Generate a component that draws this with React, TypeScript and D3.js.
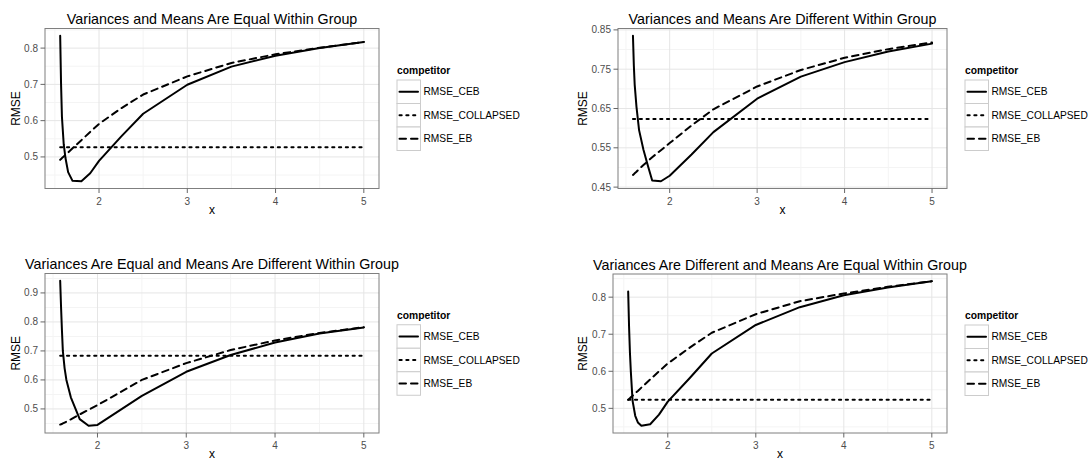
import React from 'react';
import * as d3 from 'd3';

// ---------- data ----------
const seriesNames = ['RMSE_CEB', 'RMSE_COLLAPSED', 'RMSE_EB'];
const legendTitle = 'competitor';
const xTicks = [2, 3, 4, 5];

// Panel 1: Variances and Means Are Equal Within Group
const title1 = 'Variances and Means Are Equal Within Group';
const x1 = [1.56, 1.57, 1.58, 1.6, 1.62, 1.65, 1.7, 1.8, 1.9, 2.0, 2.25, 2.5, 3.0, 3.5, 4.0, 4.5, 5.0];
const ceb1 = [0.834, 0.70, 0.61, 0.535, 0.497, 0.458, 0.434, 0.433, 0.455, 0.489, 0.556, 0.619, 0.699, 0.749, 0.779, 0.800, 0.817];
const collapsed1 = [0.527, 0.527, 0.527, 0.527, 0.527, 0.527, 0.527, 0.527, 0.527, 0.527, 0.527, 0.527, 0.527, 0.527, 0.527, 0.527, 0.527];
const eb1 = [0.492, 0.494, 0.497, 0.501, 0.506, 0.512, 0.524, 0.546, 0.569, 0.591, 0.634, 0.672, 0.722, 0.759, 0.783, 0.801, 0.817];
const yTicks1 = [0.5, 0.6, 0.7, 0.8];
const yLabels1 = ['0.5', '0.6', '0.7', '0.8'];

// Panel 2: Variances and Means Are Different Within Group
const title2 = 'Variances and Means Are Different Within Group';
const x2 = [1.58, 1.59, 1.6, 1.62, 1.65, 1.7, 1.75, 1.8, 1.9, 2.0, 2.25, 2.5, 3.0, 3.5, 4.0, 4.5, 5.0];
const ceb2 = [0.835, 0.76, 0.71, 0.655, 0.595, 0.545, 0.505, 0.467, 0.465, 0.479, 0.533, 0.590, 0.675, 0.731, 0.768, 0.795, 0.815];
const collapsed2 = [0.623, 0.623, 0.623, 0.623, 0.623, 0.623, 0.623, 0.623, 0.623, 0.623, 0.623, 0.623, 0.623, 0.623, 0.623, 0.623, 0.623];
const eb2 = [0.481, 0.483, 0.485, 0.489, 0.496, 0.506, 0.516, 0.526, 0.544, 0.562, 0.607, 0.648, 0.706, 0.748, 0.779, 0.801, 0.818];
const yTicks2 = [0.45, 0.55, 0.65, 0.75, 0.85];
const yLabels2 = ['0.45', '0.55', '0.65', '0.75', '0.85'];

// Panel 3: Variances Are Equal and Means Are Different Within Group
const title3 = 'Variances Are Equal and Means Are Different Within Group';
const x3 = [1.58, 1.59, 1.6, 1.61, 1.63, 1.65, 1.7, 1.8, 1.9, 2.0, 2.5, 3.0, 3.5, 4.0, 4.5, 5.0];
const ceb3 = [0.942, 0.85, 0.77, 0.70, 0.64, 0.60, 0.540, 0.465, 0.442, 0.445, 0.545, 0.628, 0.686, 0.729, 0.760, 0.781];
const collapsed3 = [0.683, 0.683, 0.683, 0.683, 0.683, 0.683, 0.683, 0.683, 0.683, 0.683, 0.683, 0.683, 0.683, 0.683, 0.683, 0.683];
const eb3 = [0.446, 0.447, 0.448, 0.450, 0.453, 0.456, 0.464, 0.481, 0.497, 0.513, 0.600, 0.658, 0.703, 0.736, 0.762, 0.782];
const yTicks3 = [0.5, 0.6, 0.7, 0.8, 0.9];
const yLabels3 = ['0.5', '0.6', '0.7', '0.8', '0.9'];

// Panel 4: Variances Are Different and Means Are Equal Within Group
const title4 = 'Variances Are Different and Means Are Equal Within Group';
const x4 = [1.55, 1.56, 1.57, 1.58, 1.6, 1.63, 1.66, 1.7, 1.8, 1.9, 2.0, 2.25, 2.5, 3.0, 3.5, 4.0, 4.5, 5.0];
const ceb4 = [0.815, 0.72, 0.65, 0.60, 0.52, 0.48, 0.462, 0.453, 0.457, 0.483, 0.518, 0.582, 0.648, 0.725, 0.773, 0.805, 0.826, 0.843];
const collapsed4 = [0.523, 0.523, 0.523, 0.523, 0.523, 0.523, 0.523, 0.523, 0.523, 0.523, 0.523, 0.523, 0.523, 0.523, 0.523, 0.523, 0.523, 0.523];
const eb4 = [0.523, 0.525, 0.527, 0.530, 0.534, 0.541, 0.547, 0.556, 0.578, 0.600, 0.621, 0.664, 0.704, 0.754, 0.789, 0.810, 0.828, 0.843];
const yTicks4 = [0.5, 0.6, 0.7, 0.8];
const yLabels4 = ['0.5', '0.6', '0.7', '0.8'];

// ---------- layout / style ----------
const W = 1089;
const H = 461;
const FONT = '"Liberation Sans", Arial, Helvetica, sans-serif';
const DASHES = [null, '2.2 4.6', '6.5 5'];

type PanelSpec = {
  title: string;
  x: number[];
  series: number[][];
  yTicks: number[];
  yLabels: string[];
  left: number;
  right: number;
  top: number;
  bottom: number;
  legendX: number;
  ylabX: number;
};

const panels: PanelSpec[] = [
  { title: title1, x: x1, series: [ceb1, collapsed1, eb1], yTicks: yTicks1, yLabels: yLabels1,
    left: 45, right: 379, top: 28.5, bottom: 188.5, legendX: 397, ylabX: 20 },
  { title: title2, x: x2, series: [ceb2, collapsed2, eb2], yTicks: yTicks2, yLabels: yLabels2,
    left: 618, right: 947, top: 28.5, bottom: 188.5, legendX: 965, ylabX: 587 },
  { title: title3, x: x3, series: [ceb3, collapsed3, eb3], yTicks: yTicks3, yLabels: yLabels3,
    left: 45, right: 379, top: 273.5, bottom: 433, legendX: 397, ylabX: 20 },
  { title: title4, x: x4, series: [ceb4, collapsed4, eb4], yTicks: yTicks4, yLabels: yLabels4,
    left: 613, right: 947, top: 274, bottom: 433, legendX: 965, ylabX: 587 },
];

function expand(ext: [number, number]): [number, number] {
  const r = ext[1] - ext[0];
  return [ext[0] - 0.05 * r, ext[1] + 0.05 * r];
}

function minors(ticks: number[], dom: [number, number]) {
  const step = ticks[1] - ticks[0];
  const cand = [ticks[0] - step / 2, ...ticks.map((t) => t + step / 2)];
  return cand.filter((v) => v >= dom[0] && v <= dom[1]);
}

function Panel({ p }: { p: PanelSpec }) {
  const xDom = expand(d3.extent(p.x) as [number, number]);
  const all = p.series.flat();
  const yDom = expand(d3.extent(all) as [number, number]);
  const xs = d3.scaleLinear().domain(xDom).range([p.left, p.right]);
  const ys = d3.scaleLinear().domain(yDom).range([p.bottom, p.top]);
  const xMin = minors(xTicks, xDom);
  const yMin = minors(p.yTicks, yDom);
  const cx = (p.left + p.right) / 2;
  const cy = (p.top + p.bottom) / 2;
  const boxTop = cy - 28.5;
  const box = 23.5;

  return (
    <g>
      <rect x={p.left} y={p.top} width={p.right - p.left} height={p.bottom - p.top} fill="#fff" />
      {xMin.map((v, i) => (
        <line key={'xm' + i} x1={xs(v)} x2={xs(v)} y1={p.top} y2={p.bottom} stroke="#F4F4F4" strokeWidth={1} />
      ))}
      {yMin.map((v, i) => (
        <line key={'ym' + i} x1={p.left} x2={p.right} y1={ys(v)} y2={ys(v)} stroke="#F4F4F4" strokeWidth={1} />
      ))}
      {xTicks.map((v, i) => (
        <line key={'xM' + i} x1={xs(v)} x2={xs(v)} y1={p.top} y2={p.bottom} stroke="#E5E5E5" strokeWidth={1} />
      ))}
      {p.yTicks.map((v, i) => (
        <line key={'yM' + i} x1={p.left} x2={p.right} y1={ys(v)} y2={ys(v)} stroke="#E5E5E5" strokeWidth={1} />
      ))}
      {p.series.map((s, si) => {
        const pts = p.x.map((xv, i) => [xv, s[i]] as [number, number]);
        const path = d3.line<[number, number]>().x((d) => xs(d[0])).y((d) => ys(d[1]))(pts) || '';
        return (
          <path key={'s' + si} d={path} fill="none" stroke="#000" strokeWidth={2}
            strokeDasharray={DASHES[si] || undefined} strokeLinecap="round" strokeLinejoin="round" />
        );
      })}
      <rect x={p.left} y={p.top} width={p.right - p.left} height={p.bottom - p.top} fill="none" stroke="#7F7F7F" strokeWidth={1} />
      {/* y axis */}
      {p.yTicks.map((v, i) => (
        <g key={'yt' + i}>
          <line x1={p.left - 4.5} x2={p.left} y1={ys(v)} y2={ys(v)} stroke="#666" strokeWidth={1} />
          <text x={p.left - 7} y={ys(v)} dy="0.35em" textAnchor="end" fontSize={10} fill="#4D4D4D" fontFamily={FONT}>
            {p.yLabels[i]}
          </text>
        </g>
      ))}
      {/* x axis */}
      {xTicks.map((v, i) => (
        <g key={'xt' + i}>
          <line x1={xs(v)} x2={xs(v)} y1={p.bottom} y2={p.bottom + 4.5} stroke="#666" strokeWidth={1} />
          <text x={xs(v)} y={p.bottom + 16} textAnchor="middle" fontSize={10} fill="#4D4D4D" fontFamily={FONT}>
            {String(v)}
          </text>
        </g>
      ))}
      <text x={cx} y={p.bottom + 25} textAnchor="middle" fontSize={12} fill="#000" fontFamily={FONT}>x</text>
      <text transform={`translate(${p.ylabX},${cy}) rotate(-90)`} textAnchor="middle" fontSize={12} fill="#000" fontFamily={FONT}>
        RMSE
      </text>
      <text x={cx} y={p.top - 4.5} textAnchor="middle" fontSize={14.3} fill="#000" fontFamily={FONT}>
        {p.title}
      </text>
      {/* legend */}
      <text x={p.legendX} y={boxTop - 6} fontSize={10.3} fontWeight="bold" fill="#000" fontFamily={FONT}>
        {legendTitle}
      </text>
      {seriesNames.map((nm, i) => {
        const by = boxTop + i * box;
        return (
          <g key={'lg' + i}>
            <rect x={p.legendX} y={by} width={box} height={box} fill="#fff" stroke="#CCCCCC" strokeWidth={1} />
            <line x1={p.legendX + 2.5} x2={p.legendX + box - 2.5} y1={by + box / 2} y2={by + box / 2}
              stroke="#000" strokeWidth={2} strokeDasharray={DASHES[i] || undefined} strokeLinecap="round" />
            <text x={p.legendX + box + 3} y={by + box / 2} dy="0.35em" fontSize={10.2} fill="#000" fontFamily={FONT}>
              {nm}
            </text>
          </g>
        );
      })}
    </g>
  );
}

export default function App() {
  return (
    <svg width={W} height={H} viewBox={`0 0 ${W} ${H}`} style={{ position: 'absolute', left: 0, top: 0, background: '#fff' }}>
      <rect x={0} y={0} width={W} height={H} fill="#fff" />
      {panels.map((p, i) => (
        <Panel key={i} p={p} />
      ))}
    </svg>
  );
}
